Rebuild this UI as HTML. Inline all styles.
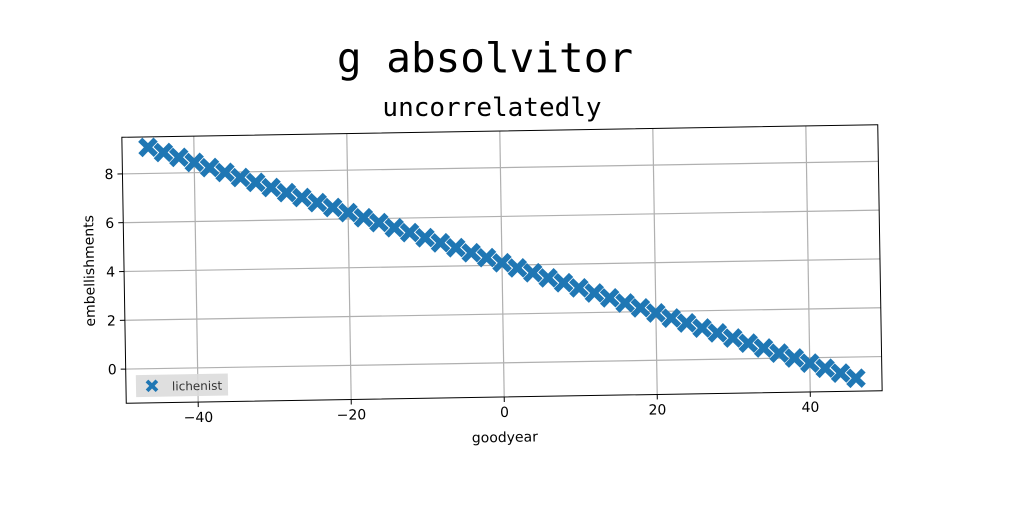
<!DOCTYPE html>
<html><head><meta charset="utf-8"><style>
body{margin:0;background:#fff;width:1024px;height:512px;overflow:hidden}
svg{display:block}
</style></head><body>
<svg width="1024" height="512" font-family="DejaVu Sans, Liberation Sans, sans-serif">
<text x="485" y="72" font-family="DejaVu Sans Mono, Liberation Mono, monospace" font-size="41" text-anchor="middle">g absolvitor</text>
<text x="492" y="116" font-family="DejaVu Sans Mono, Liberation Mono, monospace" font-size="26" text-anchor="middle">uncorrelatedly</text>
<g id="plot" transform="rotate(-0.95 502 264)"></g>
</svg>
<script>
const xTicks=[-40,-20,0,20,40];
const yTicks=[0,2,4,6,8];
const xVals=[-46,-44,-42,-40,-38,-36,-34,-32,-30,-28,-26,-24,-22,-20,-18,-16,-14,-12,-10,-8,-6,-4,-2,0,2,4,6,8,10,12,14,16,18,20,22,24,26,28,30,32,34,36,38,40,42,44,46];
const yVals=[9.07,8.85,8.64,8.42,8.20,7.99,7.77,7.56,7.34,7.12,6.91,6.69,6.48,6.26,6.04,5.83,5.61,5.40,5.18,4.96,4.75,4.53,4.32,4.10,3.88,3.67,3.45,3.24,3.02,2.80,2.59,2.37,2.16,1.94,1.72,1.51,1.29,1.08,0.86,0.64,0.43,0.21,0.00,-0.22,-0.44,-0.65,-0.87];
const L=124,R=880,T=131,B=397;
const xMin=-49.4,xMax=49.4,yMin=-1.4,yMax=9.5;
const sx=v=>L+(v-xMin)/(xMax-xMin)*(R-L);
const sy=v=>B-(v-yMin)/(yMax-yMin)*(B-T);
const NS='http://www.w3.org/2000/svg';
const g=document.getElementById('plot');
function mk(t,a,p){const e=document.createElementNS(NS,t);for(const k in a)e.setAttribute(k,a[k]);(p||g).appendChild(e);return e;}
xTicks.forEach(v=>{
 const l=mk('line',{x1:sx(v),x2:sx(v),y1:T,y2:B,stroke:'#b0b0b0','stroke-width':1.2});
 
 
 mk('line',{x1:sx(v),x2:sx(v),y1:B,y2:B+5,stroke:'#000'});
 const t=mk('text',{x:sx(v),y:B+20,'font-size':14,'text-anchor':'middle'});t.textContent=v<0?'\u2212'+(-v):v;
 
 
});
yTicks.forEach(v=>{
 const l=mk('line',{x1:L,x2:R,y1:sy(v),y2:sy(v),stroke:'#b0b0b0','stroke-width':1.2});
 
 
 mk('line',{x1:L-5,x2:L,y1:sy(v),y2:sy(v),stroke:'#000'});
 const t=mk('text',{x:L-9,y:sy(v)+5,'font-size':14,'text-anchor':'end'});t.textContent=v;
 
 
});
const fr=mk('rect',{x:L,y:T,width:R-L,height:B-T,fill:'none',stroke:'#000','stroke-width':1});


const X='M-7,-4 L-4,-7 L0,-3 L4,-7 L7,-4 L3,0 L7,4 L4,7 L0,3 L-4,7 L-7,4 L-3,0 Z';
xVals.forEach((v,i)=>{
 const p=mk('path',{d:X,transform:`translate(${sx(v)},${sy(yVals[i])}) scale(1.4)`,fill:'#1f77b4'});
 
 
});
const lg=mk('g',{});


mk('rect',{x:L+10,y:B-28,width:92,height:22,fill:'#dcdcdc',opacity:0.9},lg);
mk('path',{d:X,transform:`translate(${L+26},${B-17}) scale(0.9)`,fill:'#1f77b4'},lg);
const lt=mk('text',{x:L+46,y:B-12,'font-size':12,fill:'#333'},lg);lt.textContent='lichenist';
const xl=mk('text',{x:(L+R)/2,y:B+45,'font-size':14,'text-anchor':'middle'});xl.textContent='goodyear';


const yl=mk('text',{x:0,y:0,'font-size':14,'text-anchor':'middle',transform:`translate(${L-30},${(T+B)/2}) rotate(-90)`});yl.textContent='embellishments';


</script>
</body></html>
